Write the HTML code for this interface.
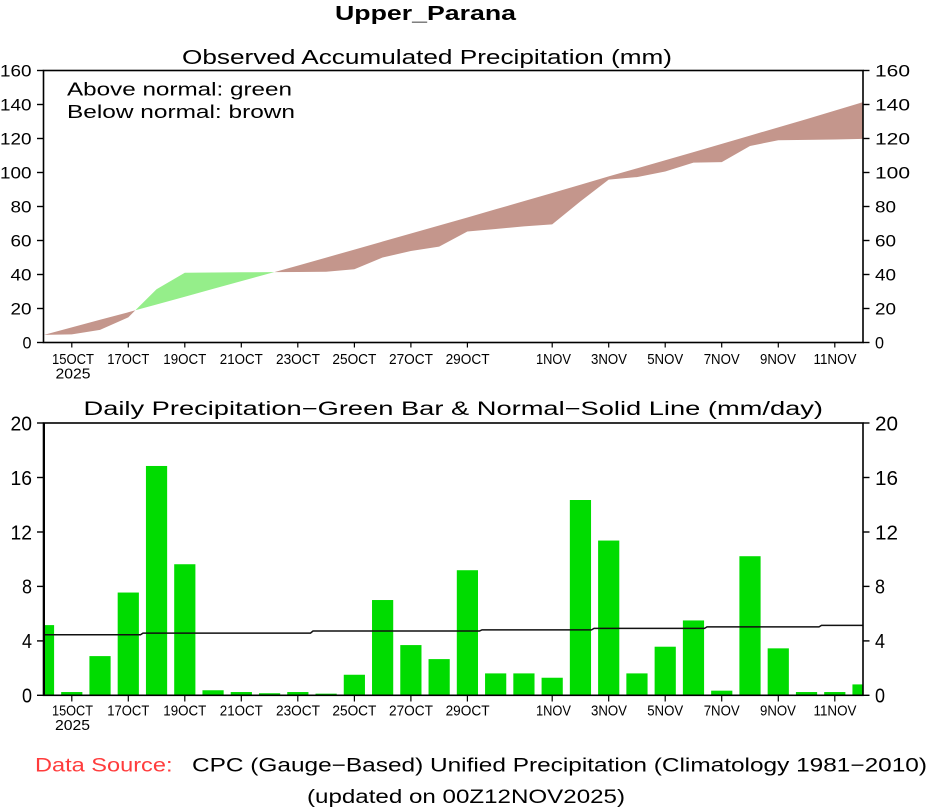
<!DOCTYPE html>
<html>
<head>
<meta charset="utf-8">
<style>
html,body{margin:0;padding:0;background:#fff;}
svg{display:block;}
text{font-family:"Liberation Sans",Arial,sans-serif;fill:#000;}
</style>
</head>
<body>
<svg width="933" height="809" viewBox="0 0 933 809" xmlns="http://www.w3.org/2000/svg">
<rect x="0" y="0" width="933" height="809" fill="#fff"/>

<!-- Titles -->
<text x="335" y="20" font-size="20" font-weight="bold" textLength="181" lengthAdjust="spacingAndGlyphs">Upper_Parana</text>
<text x="182" y="64" font-size="20" textLength="490" lengthAdjust="spacingAndGlyphs">Observed Accumulated Precipitation (mm)</text>

<!-- ===== TOP CHART ===== -->
<!-- fills -->
<polygon fill="#c4968c" points="43.5,334.85 71.76,334.34 100.02,329.92 128.28,317.34 135.35,310.3 128.28,312.24 100.02,319.8 71.76,327.37 43.5,334.94"/>
<polygon fill="#95ee8a" points="135.35,310.3 156.54,289.29 184.8,272.8 213.06,272.46 241.32,272.29 269.58,272.12 274.33,272.09 269.58,273.4 241.32,281.16 213.06,288.93 184.8,296.7 156.54,304.47"/>
<polygon fill="#c4968c" points="274.33,272.09 297.84,271.95 326.1,271.78 354.36,269.23 382.62,257.5 410.88,251.04 439.14,246.62 467.4,231.49 495.66,228.94 523.92,226.39 552.18,224.35 580.44,201.4 608.7,179.64 636.96,177.09 665.22,171.48 693.48,162.64 721.74,162.13 750,145.98 778.26,140.2 806.52,139.86 834.78,139.52 863.04,138.84 863.04,102.17 834.78,110.62 806.52,119.07 778.26,127.33 750,135.61 721.74,143.87 693.48,152.15 665.22,160.23 636.96,168.32 608.7,176.41 580.44,184.77 552.18,192.95 523.92,201.13 495.66,209.3 467.4,217.48 439.14,225.51 410.88,233.53 382.62,241.55 354.36,249.58 326.1,257.6 297.84,265.63"/>

<!-- frame -->
<rect x="43.5" y="70.5" width="819.5" height="272" fill="none" stroke="#000" stroke-width="1.6"/>

<!-- y ticks top -->
<g stroke="#000" stroke-width="1.4">
<line x1="37" y1="342.5" x2="43.5" y2="342.5"/><line x1="37" y1="308.5" x2="43.5" y2="308.5"/>
<line x1="37" y1="274.5" x2="43.5" y2="274.5"/><line x1="37" y1="240.5" x2="43.5" y2="240.5"/>
<line x1="37" y1="206.5" x2="43.5" y2="206.5"/><line x1="37" y1="172.5" x2="43.5" y2="172.5"/>
<line x1="37" y1="138.5" x2="43.5" y2="138.5"/><line x1="37" y1="104.5" x2="43.5" y2="104.5"/>
<line x1="37" y1="70.5" x2="43.5" y2="70.5"/>
<line x1="863" y1="342.5" x2="869.5" y2="342.5"/><line x1="863" y1="308.5" x2="869.5" y2="308.5"/>
<line x1="863" y1="274.5" x2="869.5" y2="274.5"/><line x1="863" y1="240.5" x2="869.5" y2="240.5"/>
<line x1="863" y1="206.5" x2="869.5" y2="206.5"/><line x1="863" y1="172.5" x2="869.5" y2="172.5"/>
<line x1="863" y1="138.5" x2="869.5" y2="138.5"/><line x1="863" y1="104.5" x2="869.5" y2="104.5"/>
<line x1="863" y1="70.5" x2="869.5" y2="70.5"/>
</g>
<!-- y labels top -->
<g font-size="16.5" text-anchor="end">
<text x="31.5" y="348.4" textLength="9" lengthAdjust="spacingAndGlyphs">0</text>
<text x="31.5" y="314.4" textLength="21" lengthAdjust="spacingAndGlyphs">20</text>
<text x="31.5" y="280.4" textLength="21" lengthAdjust="spacingAndGlyphs">40</text>
<text x="31.5" y="246.4" textLength="21" lengthAdjust="spacingAndGlyphs">60</text>
<text x="31.5" y="212.4" textLength="21" lengthAdjust="spacingAndGlyphs">80</text>
<text x="31.5" y="178.4" textLength="31.5" lengthAdjust="spacingAndGlyphs">100</text>
<text x="31.5" y="144.4" textLength="31.5" lengthAdjust="spacingAndGlyphs">120</text>
<text x="31.5" y="110.4" textLength="31.5" lengthAdjust="spacingAndGlyphs">140</text>
<text x="31.5" y="76.4" textLength="31.5" lengthAdjust="spacingAndGlyphs">160</text>
</g>
<g font-size="16.5">
<text x="875" y="348.4" textLength="9" lengthAdjust="spacingAndGlyphs">0</text>
<text x="875" y="314.4" textLength="21" lengthAdjust="spacingAndGlyphs">20</text>
<text x="875" y="280.4" textLength="21" lengthAdjust="spacingAndGlyphs">40</text>
<text x="875" y="246.4" textLength="21" lengthAdjust="spacingAndGlyphs">60</text>
<text x="875" y="212.4" textLength="21" lengthAdjust="spacingAndGlyphs">80</text>
<text x="875" y="178.4" textLength="35" lengthAdjust="spacingAndGlyphs">100</text>
<text x="875" y="144.4" textLength="35" lengthAdjust="spacingAndGlyphs">120</text>
<text x="875" y="110.4" textLength="35" lengthAdjust="spacingAndGlyphs">140</text>
<text x="875" y="76.4" textLength="35" lengthAdjust="spacingAndGlyphs">160</text>
</g>

<!-- x ticks top -->
<g stroke="#000" stroke-width="1.2">
<line x1="71.8" y1="342.5" x2="71.8" y2="347.5"/><line x1="128.3" y1="342.5" x2="128.3" y2="347.5"/>
<line x1="184.8" y1="342.5" x2="184.8" y2="347.5"/><line x1="241.3" y1="342.5" x2="241.3" y2="347.5"/>
<line x1="297.8" y1="342.5" x2="297.8" y2="347.5"/><line x1="354.4" y1="342.5" x2="354.4" y2="347.5"/>
<line x1="410.9" y1="342.5" x2="410.9" y2="347.5"/><line x1="467.4" y1="342.5" x2="467.4" y2="347.5"/>
<line x1="552.2" y1="342.5" x2="552.2" y2="347.5"/><line x1="608.7" y1="342.5" x2="608.7" y2="347.5"/>
<line x1="665.2" y1="342.5" x2="665.2" y2="347.5"/><line x1="721.7" y1="342.5" x2="721.7" y2="347.5"/>
<line x1="778.3" y1="342.5" x2="778.3" y2="347.5"/><line x1="834.8" y1="342.5" x2="834.8" y2="347.5"/>
</g>
<g font-size="14.5" text-anchor="middle">
<text x="73" y="364" textLength="42" lengthAdjust="spacingAndGlyphs">15OCT</text>
<text x="73" y="378.5" textLength="35" lengthAdjust="spacingAndGlyphs">2025</text>
<text x="128.3" y="364" textLength="42" lengthAdjust="spacingAndGlyphs">17OCT</text>
<text x="184.8" y="364" textLength="43" lengthAdjust="spacingAndGlyphs">19OCT</text>
<text x="241.3" y="364" textLength="43" lengthAdjust="spacingAndGlyphs">21OCT</text>
<text x="298" y="364" textLength="44" lengthAdjust="spacingAndGlyphs">23OCT</text>
<text x="354.4" y="364" textLength="44" lengthAdjust="spacingAndGlyphs">25OCT</text>
<text x="411" y="364" textLength="44" lengthAdjust="spacingAndGlyphs">27OCT</text>
<text x="467.6" y="364" textLength="44" lengthAdjust="spacingAndGlyphs">29OCT</text>
<text x="553.5" y="364" textLength="35" lengthAdjust="spacingAndGlyphs">1NOV</text>
<text x="609" y="364" textLength="36" lengthAdjust="spacingAndGlyphs">3NOV</text>
<text x="665.2" y="364" textLength="36" lengthAdjust="spacingAndGlyphs">5NOV</text>
<text x="721.7" y="364" textLength="36" lengthAdjust="spacingAndGlyphs">7NOV</text>
<text x="778" y="364" textLength="36" lengthAdjust="spacingAndGlyphs">9NOV</text>
<text x="835" y="364" textLength="43" lengthAdjust="spacingAndGlyphs">11NOV</text>
</g>

<!-- legend -->
<text x="67" y="95.5" font-size="18" textLength="225" lengthAdjust="spacingAndGlyphs">Above normal: green</text>
<text x="67" y="118" font-size="18" textLength="228" lengthAdjust="spacingAndGlyphs">Below normal: brown</text>

<!-- ===== BOTTOM CHART ===== -->
<text x="83.5" y="415" font-size="19" textLength="739.5" lengthAdjust="spacingAndGlyphs">Daily Precipitation−Green Bar &amp; Normal−Solid Line (mm/day)</text>

<g fill="#00dc00">
<rect x="44.5" y="625.1" width="9.6" height="70.2"/>
<rect x="61.16" y="692.03" width="21.2" height="3.27"/>
<rect x="89.42" y="656.1" width="21.2" height="39.2"/>
<rect x="117.68" y="592.54" width="21.2" height="102.76"/>
<rect x="145.94" y="465.97" width="21.2" height="229.33"/>
<rect x="174.2" y="564.24" width="21.2" height="131.06"/>
<rect x="202.46" y="690.26" width="21.2" height="5.04"/>
<rect x="230.72" y="692.03" width="21.2" height="3.27"/>
<rect x="258.98" y="693.26" width="21.2" height="2.04"/>
<rect x="287.24" y="692.03" width="21.2" height="3.27"/>
<rect x="315.5" y="693.67" width="21.2" height="1.63"/>
<rect x="343.76" y="674.75" width="21.2" height="20.55"/>
<rect x="372.02" y="600.03" width="21.2" height="95.27"/>
<rect x="400.28" y="645.08" width="21.2" height="50.22"/>
<rect x="428.54" y="659.1" width="21.2" height="36.2"/>
<rect x="456.8" y="570.22" width="21.2" height="125.08"/>
<rect x="485.06" y="673.39" width="21.2" height="21.91"/>
<rect x="513.32" y="673.39" width="21.2" height="21.91"/>
<rect x="541.58" y="677.74" width="21.2" height="17.56"/>
<rect x="569.84" y="500.0" width="21.2" height="195.3"/>
<rect x="598.1" y="540.55" width="21.2" height="154.75"/>
<rect x="626.36" y="673.39" width="21.2" height="21.91"/>
<rect x="654.62" y="646.71" width="21.2" height="48.59"/>
<rect x="682.88" y="620.44" width="21.2" height="74.86"/>
<rect x="711.14" y="690.67" width="21.2" height="4.63"/>
<rect x="739.4" y="556.21" width="21.2" height="139.09"/>
<rect x="767.66" y="648.35" width="21.2" height="46.95"/>
<rect x="795.92" y="692.03" width="21.2" height="3.27"/>
<rect x="824.18" y="692.03" width="21.2" height="3.27"/>
<rect x="852.44" y="684.41" width="10.06" height="10.89"/>
</g>

<!-- normal line -->
<polyline fill="none" stroke="#111" stroke-width="1.5" points="43.5,634.74 140.5,634.74 143,633.1 310.5,633.1 313,631.06 479.5,631.06 482,629.84 591.5,629.84 594,628.34 704.5,628.34 707,626.84 819,626.84 821.5,625.34 863,625.34"/>

<!-- frame -->
<rect x="43.5" y="423" width="819.5" height="272.3" fill="none" stroke="#000" stroke-width="1.6"/>
<line x1="44" y1="423" x2="44" y2="695.3" stroke="#000" stroke-width="2"/>

<!-- y ticks bottom -->
<g stroke="#000" stroke-width="1.4">
<line x1="37" y1="695.3" x2="43.5" y2="695.3"/><line x1="37" y1="640.9" x2="43.5" y2="640.9"/>
<line x1="37" y1="586.4" x2="43.5" y2="586.4"/><line x1="37" y1="532" x2="43.5" y2="532"/>
<line x1="37" y1="477.5" x2="43.5" y2="477.5"/><line x1="37" y1="423" x2="43.5" y2="423"/>
<line x1="863" y1="695.3" x2="869.5" y2="695.3"/><line x1="863" y1="640.9" x2="869.5" y2="640.9"/>
<line x1="863" y1="586.4" x2="869.5" y2="586.4"/><line x1="863" y1="532" x2="869.5" y2="532"/>
<line x1="863" y1="477.5" x2="869.5" y2="477.5"/><line x1="863" y1="423" x2="869.5" y2="423"/>
</g>
<g font-size="20.5" text-anchor="end">
<text x="32" y="702.6" textLength="10" lengthAdjust="spacingAndGlyphs">0</text>
<text x="32" y="648.2" textLength="10" lengthAdjust="spacingAndGlyphs">4</text>
<text x="32" y="593.7" textLength="10" lengthAdjust="spacingAndGlyphs">8</text>
<text x="32" y="539.3" textLength="21.5" lengthAdjust="spacingAndGlyphs">12</text>
<text x="32" y="484.8" textLength="21.5" lengthAdjust="spacingAndGlyphs">16</text>
<text x="32" y="430.3" textLength="21.5" lengthAdjust="spacingAndGlyphs">20</text>
</g>
<g font-size="20.5">
<text x="875" y="702.6" textLength="10" lengthAdjust="spacingAndGlyphs">0</text>
<text x="875" y="648.2" textLength="10" lengthAdjust="spacingAndGlyphs">4</text>
<text x="875" y="593.7" textLength="10" lengthAdjust="spacingAndGlyphs">8</text>
<text x="875" y="539.3" textLength="23" lengthAdjust="spacingAndGlyphs">12</text>
<text x="875" y="484.8" textLength="23" lengthAdjust="spacingAndGlyphs">16</text>
<text x="875" y="430.3" textLength="23" lengthAdjust="spacingAndGlyphs">20</text>
</g>

<!-- x ticks bottom -->
<g stroke="#000" stroke-width="1.2">
<line x1="71.8" y1="695.3" x2="71.8" y2="701.5"/><line x1="128.3" y1="695.3" x2="128.3" y2="701.5"/>
<line x1="184.8" y1="695.3" x2="184.8" y2="701.5"/><line x1="241.3" y1="695.3" x2="241.3" y2="701.5"/>
<line x1="297.8" y1="695.3" x2="297.8" y2="701.5"/><line x1="354.4" y1="695.3" x2="354.4" y2="701.5"/>
<line x1="410.9" y1="695.3" x2="410.9" y2="701.5"/><line x1="467.4" y1="695.3" x2="467.4" y2="701.5"/>
<line x1="552.2" y1="695.3" x2="552.2" y2="701.5"/><line x1="608.7" y1="695.3" x2="608.7" y2="701.5"/>
<line x1="665.2" y1="695.3" x2="665.2" y2="701.5"/><line x1="721.7" y1="695.3" x2="721.7" y2="701.5"/>
<line x1="778.3" y1="695.3" x2="778.3" y2="701.5"/><line x1="834.8" y1="695.3" x2="834.8" y2="701.5"/>
</g>
<g font-size="14.5" text-anchor="middle">
<text x="72.5" y="715.5" textLength="41" lengthAdjust="spacingAndGlyphs">15OCT</text>
<text x="72.5" y="730" textLength="35" lengthAdjust="spacingAndGlyphs">2025</text>
<text x="128.3" y="715.5" textLength="42" lengthAdjust="spacingAndGlyphs">17OCT</text>
<text x="184.8" y="715.5" textLength="43" lengthAdjust="spacingAndGlyphs">19OCT</text>
<text x="241.3" y="715.5" textLength="43" lengthAdjust="spacingAndGlyphs">21OCT</text>
<text x="298" y="715.5" textLength="44" lengthAdjust="spacingAndGlyphs">23OCT</text>
<text x="354.4" y="715.5" textLength="44" lengthAdjust="spacingAndGlyphs">25OCT</text>
<text x="411" y="715.5" textLength="44" lengthAdjust="spacingAndGlyphs">27OCT</text>
<text x="467.6" y="715.5" textLength="44" lengthAdjust="spacingAndGlyphs">29OCT</text>
<text x="553.5" y="715.5" textLength="35" lengthAdjust="spacingAndGlyphs">1NOV</text>
<text x="609" y="715.5" textLength="36" lengthAdjust="spacingAndGlyphs">3NOV</text>
<text x="665.2" y="715.5" textLength="36" lengthAdjust="spacingAndGlyphs">5NOV</text>
<text x="721.7" y="715.5" textLength="36" lengthAdjust="spacingAndGlyphs">7NOV</text>
<text x="778" y="715.5" textLength="36" lengthAdjust="spacingAndGlyphs">9NOV</text>
<text x="835" y="715.5" textLength="43" lengthAdjust="spacingAndGlyphs">11NOV</text>
</g>

<!-- footer -->
<text x="35" y="771.5" font-size="19" fill="#ff3c3c" style="fill:#ff3c3c" textLength="137.5" lengthAdjust="spacingAndGlyphs">Data Source:</text>
<text x="192" y="771.5" font-size="19" textLength="735" lengthAdjust="spacingAndGlyphs">CPC (Gauge−Based) Unified Precipitation (Climatology 1981−2010)</text>
<text x="307" y="803" font-size="19" textLength="318" lengthAdjust="spacingAndGlyphs">(updated on 00Z12NOV2025)</text>
</svg>
</body>
</html>
